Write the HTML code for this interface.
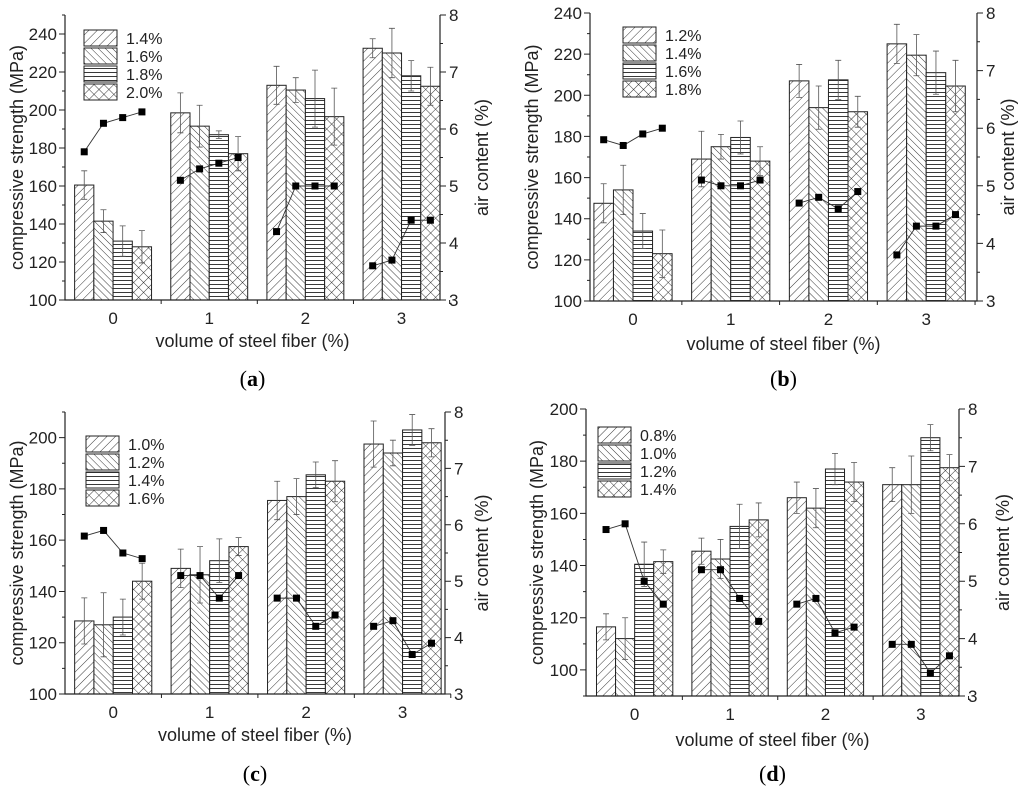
<!DOCTYPE html>
<html><head><meta charset="utf-8"><style>
body{margin:0;background:#fff;}
svg{display:block;font-family:"Liberation Sans",Arial,sans-serif;}
.cap{font-family:"Liberation Serif",serif;font-size:22px;}
</style></head><body>
<svg id="fig" width="1024" height="788" viewBox="0 0 1024 788" xmlns="http://www.w3.org/2000/svg">
<defs>
<pattern id="p0" width="6" height="6" patternUnits="userSpaceOnUse" patternTransform="rotate(45)"><rect width="6" height="6" fill="#fff"/><line x1="0" y1="0" x2="0" y2="6" stroke="#222" stroke-width="0.9"/></pattern>
<pattern id="p1" width="5" height="5" patternUnits="userSpaceOnUse" patternTransform="rotate(-45)"><rect width="5" height="5" fill="#fff"/><line x1="0" y1="0" x2="0" y2="5" stroke="#222" stroke-width="0.9"/></pattern>
<pattern id="p2" width="4" height="4" patternUnits="userSpaceOnUse"><rect width="4" height="4" fill="#fff"/><line x1="0" y1="0.5" x2="4" y2="0.5" stroke="#222" stroke-width="0.9"/></pattern>
<pattern id="p3" width="7" height="7" patternUnits="userSpaceOnUse" patternTransform="rotate(45)"><rect width="7" height="7" fill="#fff"/><line x1="0" y1="0" x2="0" y2="7" stroke="#222" stroke-width="0.9"/><line x1="0" y1="0" x2="7" y2="0" stroke="#222" stroke-width="0.9"/></pattern>
</defs>
</svg>
<script>
// Panel (a)
const catsA=["0","1","2","3"];
const legendA=["1.4%","1.6%","1.8%","2.0%"];
const strA=[[160.5,141.5,131,128],[198.5,191.5,187,177],[213,210.5,206,196.5],[232.5,230,218,212.5]];
const errA=[[7.5,6,8,8.5],[10.5,11,2,9],[10,6.5,15,15],[5,13,8,10]];
const airA=[[5.6,6.1,6.2,6.3],[5.1,5.3,5.4,5.5],[4.2,5.0,5.0,5.0],[3.6,3.7,4.4,4.4]];
const ticksA=[100,120,140,160,180,200,220,240];
// Panel (b)
const catsB=["0","1","2","3"];
const legendB=["1.2%","1.4%","1.6%","1.8%"];
const strB=[[147.5,154,134,123],[169,175,179.5,168],[207,194,207.5,192],[225,219.5,211,204.5]];
const errB=[[9.5,12,8.5,11.5],[13.5,6,8,7],[8,10.5,9.5,7.5],[9.5,10,10.5,12.5]];
const airB=[[5.8,5.7,5.9,6.0],[5.1,5.0,5.0,5.1],[4.7,4.8,4.6,4.9],[3.8,4.3,4.3,4.5]];
const ticksB=[100,120,140,160,180,200,220,240];
// Panel (c)
const catsC=["0","1","2","3"];
const legendC=["1.0%","1.2%","1.4%","1.6%"];
const strC=[[128.5,127,130,144],[149,146.5,152,157.5],[175.5,177,185.5,183],[197.5,194,203,198]];
const errC=[[9,12.5,7,7],[7.5,11,8.5,3.5],[7.5,7,5,8],[9,5,6,5.5]];
const airC=[[5.8,5.9,5.5,5.4],[5.1,5.1,4.7,5.1],[4.7,4.7,4.2,4.4],[4.2,4.3,3.7,3.9]];
const ticksC=[100,120,140,160,180,200];
// Panel (d)
const catsD=["0","1","2","3"];
const legendD=["0.8%","1.0%","1.2%","1.4%"];
const strD=[[116.5,112,140.5,141.5],[145.5,142.5,155,157.5],[166,162,177,172],[171,171,189,177.5]];
const errD=[[5,8,8.5,4.5],[5,7.5,8.5,6.5],[6,7.5,6,7.5],[6.5,11,5,5]];
const airD=[[5.9,6.0,5.0,4.6],[5.2,5.2,4.7,4.3],[4.6,4.7,4.1,4.2],[3.9,3.9,3.4,3.7]];
const ticksD=[100,120,140,160,180,200];
const airTicks=[3,4,5,6,7,8];

const NS="http://www.w3.org/2000/svg";
const svg=document.getElementById('fig');
function mk(tag,attrs,parent,text){const e=document.createElementNS(NS,tag);for(const k in attrs)e.setAttribute(k,attrs[k]);if(text!==undefined)e.textContent=text;(parent||svg).appendChild(e);return e;}

function panel(id,cfg,cats,legend,str,err,air,ticks){
  const g=mk('g',{});
  
  
  const L=cfg.L,R=cfg.R,T=cfg.T,B=cfg.B;
  const xs=c=>L+(c-cfg.x0)/(cfg.x1-cfg.x0)*(R-L);
  const ys=v=>B-(v-cfg.y0)/(cfg.y1-cfg.y0)*(B-T);
  const ya=v=>B-(v-3)/5*(B-T);
  const step=xs(1)-xs(0), bw=step*0.2;
  for(let c=0;c<str.length;c++){
    for(let s=0;s<4;s++){
      const x=xs(c)-2*bw+s*bw, v=str[c][s];
      const r=mk('rect',{x:x,y:ys(v),width:bw,height:B-ys(v),fill:'url(#p'+s+')',stroke:'#222','stroke-width':1},g);
      
      
      const cx=x+bw/2, e=err[c][s];
      const el=mk('path',{d:`M${cx},${ys(v-e)}V${ys(v+e)}M${cx-3},${ys(v+e)}H${cx+3}M${cx-3},${ys(v-e)}H${cx+3}`,stroke:'#555','stroke-width':0.8,fill:'none'},g);
      
      
    }
    let d='';
    for(let s=0;s<4;s++){const cx=xs(c)-2*bw+s*bw+bw/2;d+=(s?'L':'M')+cx+','+ya(air[c][s]);}
    const ln=mk('path',{d:d,stroke:'#333','stroke-width':0.9,fill:'none'},g);
    
    
    for(let s=0;s<4;s++){const cx=xs(c)-2*bw+s*bw+bw/2;
      const p=mk('rect',{x:cx-3.5,y:ya(air[c][s])-3.5,width:7,height:7,fill:'#000'},g);
      
      }
  }
  const ax=mk('path',{d:`M${L},${T}V${B}H${R}V${T}`,stroke:'#222','stroke-width':1.2,fill:'none'},g);
  
  
  let td='';
  for(let v=cfg.y0;v<=cfg.y1+0.01;v+=10){if(v%10)continue;const y=ys(v);td+=`M${L},${y}H${L-(v%20===0?6:3)}`;}
  for(let v=3;v<=8;v+=0.5){const y=ya(v);td+=`M${R},${y}H${R+(Number.isInteger(v)?6:3)}`;}
  for(let c=0;c<=3;c++){td+=`M${xs(c+0.5)},${B}V${B+4}`;}
  mk('path',{d:td,stroke:'#222','stroke-width':1,fill:'none'},g);
  ticks.forEach(t=>{const e=mk('text',{x:L-8,y:ys(t)+6,'text-anchor':'end','font-size':17,fill:'#222'},g,String(t));
    });
  airTicks.forEach(t=>{const e=mk('text',{x:R+9,y:ya(t)+6,'font-size':17,fill:'#222'},g,String(t));
    });
  cats.forEach((t,c)=>{const e=mk('text',{x:xs(c),y:B+24,'text-anchor':'middle','font-size':17,fill:'#222'},g,t);
    });
  const xt=mk('text',{x:(L+R)/2,y:cfg.xtY,'text-anchor':'middle','font-size':18,fill:'#222'},g,'volume of steel fiber (%)');
  
  const yt=mk('text',{x:0,y:0,'text-anchor':'middle','font-size':18,fill:'#222',transform:`translate(${cfg.ltX},${(T+B)/2}) rotate(-90)`},g,'compressive strength (MPa)');
  
  const yt2=mk('text',{x:0,y:0,'text-anchor':'middle','font-size':18,fill:'#222',transform:`translate(${cfg.rtX},${(T+B)/2}) rotate(-90)`},g,'air content (%)');
  
  legend.forEach((t,s)=>{const y=cfg.lgY+s*18;
    const r=mk('rect',{x:cfg.lgX,y:y,width:33,height:16,fill:'url(#p'+s+')',stroke:'#222','stroke-width':1},g);
    
    const e=mk('text',{x:cfg.lgX+42,y:y+14,'font-size':16,fill:'#222'},g,t);
    });
  const cp=mk('text',{x:(L+R)/2,y:cfg.capY,'text-anchor':'middle',class:'cap'},g);
  
  cp.appendChild(document.createTextNode('('));
  mk('tspan',{'font-weight':'bold'},cp,id);
  cp.appendChild(document.createTextNode(')'));
}
panel('a',{L:65,R:440,T:15,B:300,x0:-0.5,x1:3.4,y0:100,y1:250,lgX:84,lgY:30,xtY:347,capY:386,ltX:23,rtX:488},catsA,legendA,strA,errA,airA,ticksA);
panel('b',{L:590,R:977,T:13,B:301,x0:-0.44,x1:3.52,y0:100,y1:240,lgX:623,lgY:27,xtY:350,capY:386,ltX:538,rtX:1014},catsB,legendB,strB,errB,airB,ticksB);
panel('c',{L:65,R:445,T:412,B:694,x0:-0.5,x1:3.44,y0:100,y1:210,lgX:86,lgY:436,xtY:741,capY:781,ltX:23,rtX:488},catsC,legendC,strC,errC,airC,ticksC);
panel('d',{L:586,R:959,T:409,B:696,x0:-0.51,x1:3.4,y0:90,y1:200,lgX:598,lgY:427,xtY:746,capY:781,ltX:543,rtX:1009},catsD,legendD,strD,errD,airD,ticksD);
</script>
</body></html>
